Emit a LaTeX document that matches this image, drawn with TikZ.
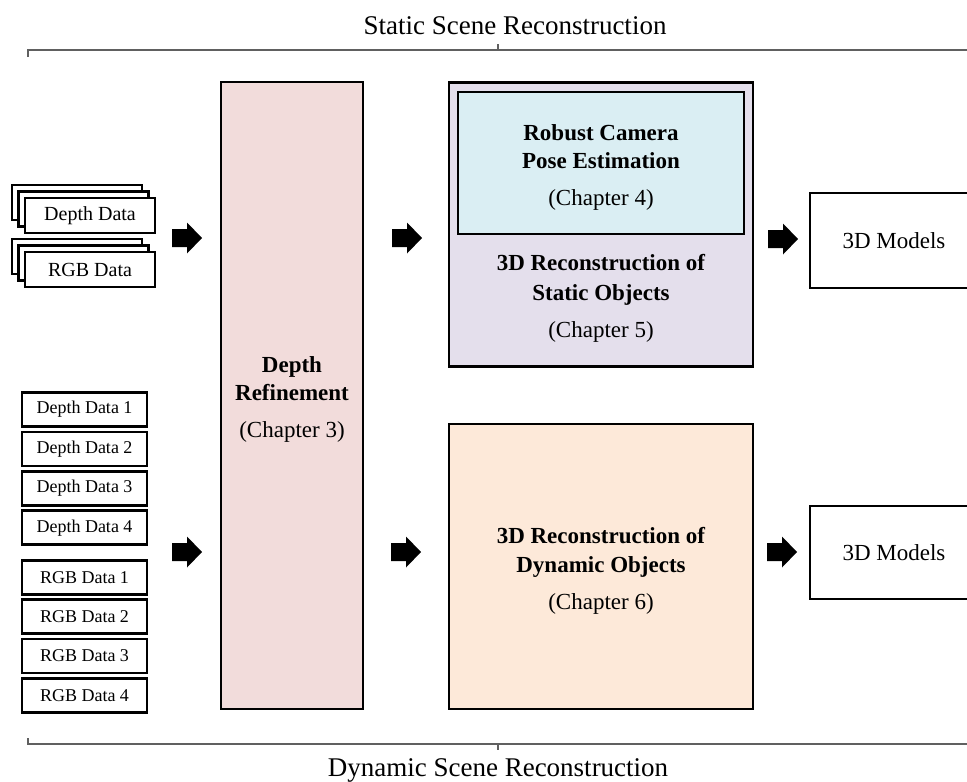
\documentclass[tikz,border=0pt]{standalone}
\usepackage{fontspec}
\setmainfont{Liberation Serif}
\usetikzlibrary{positioning}

\definecolor{refinefill}{HTML}{F2DCDB}
\definecolor{staticfill}{HTML}{E4DFEC}
\definecolor{posefill}{HTML}{DAEEF3}
\definecolor{dynfill}{HTML}{FDE9D9}
\definecolor{bracegray}{HTML}{606060}

\tikzset{
    stage/.style={
        draw=black,
        line width=2.5pt,
        inner sep=0pt
    },
    stagetext/.style={
        align=center,
        font=\fontsize{23}{28.5}\selectfont
    },
    datbox/.style={
        draw=black,
        fill=white,
        line width=2.8pt,
        minimum width=125pt,
        minimum height=34pt,
        inner sep=0pt,
        font=\fontsize{18}{20}\selectfont
    },
    stackbox/.style={
        datbox,
        minimum width=130pt,
        minimum height=35pt,
        font=\fontsize{20}{22}\selectfont
    },
    modelbox/.style={
        datbox,
        line width=2.5pt,
        minimum width=168pt,
        minimum height=95pt,
        font=\fontsize{23}{26}\selectfont
    },
    brace/.style={draw=bracegray, line width=1.5pt},
    blockarr/.pic={
        \fill (0,-9) -- (15,-9) -- (15,-15.5) -- (30,0) -- (15,15.5) -- (15,9) -- (0,9) -- cycle;
    }
}

\begin{document}
\begin{tikzpicture}[x=1pt, y=-1pt, node distance=39.4pt, on grid]
            \clip (0,0) rectangle (967,782);

            % Scene braces
            \node (statictitle) at (515,26) [font=\fontsize{27}{30}\selectfont] {Static Scene Reconstruction};
            \draw [brace] (28,57) -- (28,50) -- (975,50);
            \draw [brace] (498,50) -- (498,44);
            \node (dyntitle) at (498,770) [font=\fontsize{27}{30}\selectfont] {Dynamic Scene Reconstruction};
            \draw [brace] (28,738) -- (28,744) -- (975,744);
            \draw [brace] (498,744) -- (498,750);

            % Static input (stacked)
            \node (depthc) at (77,202.5) [stackbox] {};
            \node (depthb) [stackbox, below right=6.5pt and 6.5pt of depthc] {};
            \node (deptha) [stackbox, below right=6.5pt and 6.5pt of depthb] {Depth Data};
            \node (rgbc) at (77,256.5) [stackbox] {};
            \node (rgbb) [stackbox, below right=6.5pt and 6.5pt of rgbc] {};
            \node (rgba) [stackbox, below right=6.5pt and 6.5pt of rgbb] {RGB Data};

            % Dynamic input
            \node (depth1) at (84.5,409.5) [datbox] {Depth Data 1};
            \node (depth2) [datbox, below=of depth1] {Depth Data 2};
            \node (depth3) [datbox, below=of depth2] {Depth Data 3};
            \node (depth4) [datbox, below=of depth3] {Depth Data 4};
            \node (rgb1) [datbox, below=49.5pt of depth4] {RGB Data 1};
            \node (rgb2) [datbox, below=of rgb1] {RGB Data 2};
            \node (rgb3) [datbox, below=of rgb2] {RGB Data 3};
            \node (rgb4) [datbox, below=of rgb3] {RGB Data 4};

            % Stages
            \node (refine) at (292,395.5) [
                stage,
                fill=refinefill,
                minimum width=142pt,
                minimum height=627pt
            ] {};
            \node (refinetxt) at (292,399.5) [stagetext]
                {\textbf{Depth}\\\textbf{Refinement}\\[8.5pt](Chapter 3)};
            \node (static) at (601,224.5) [
                stage,
                fill=staticfill,
                minimum width=304pt,
                minimum height=284pt
            ] {};
            \node (pose) at (601,163) [
                stage,
                fill=posefill,
                minimum width=286pt,
                minimum height=142pt
            ] {};
            \node (posetxt) at (601,167.5) [stagetext]
                {\textbf{Robust Camera}\\\textbf{Pose Estimation}\\[8.5pt](Chapter 4)};
            \node (statictxt) at (601,298.5) [stagetext, font=\fontsize{23}{29.5}\selectfont]
                {\textbf{3D Reconstruction of}\\\textbf{Static Objects}\\[7.5pt](Chapter 5)};
            \node (dynamic) at (601,566.5) [
                stage,
                fill=dynfill,
                minimum width=304pt,
                minimum height=285pt
            ] {};
            \node (dynamictxt) at (601,571) [stagetext]
                {\textbf{3D Reconstruction of}\\\textbf{Dynamic Objects}\\[8.5pt](Chapter 6)};

            % Outputs
            \node (staticout) at (894,240.5) [modelbox] {3D Models};
            \node (dynout) at (894,552.5) [modelbox, minimum height=93pt] {3D Models};

            % Block arrows
            \pic at (172,238) {blockarr};
            \pic at (392,238) {blockarr};
            \pic at (768,239) {blockarr};
            \pic at (172,552) {blockarr};
            \pic at (391,552) {blockarr};
            \pic at (767,552) {blockarr};
\end{tikzpicture}
\end{document}
